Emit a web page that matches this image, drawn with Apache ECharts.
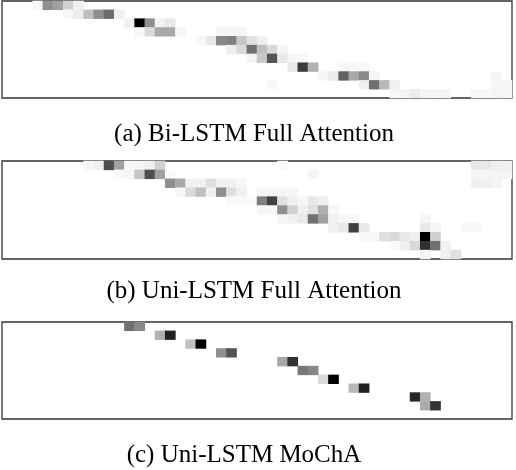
<!DOCTYPE html>
<html>
<head>
<meta charset="utf-8">
<script src="https://cdn.jsdelivr.net/npm/echarts@6/dist/echarts.min.js"></script>
<style>
  html, body { margin: 0; padding: 0; background: #fff; }
  #chart { width: 516px; height: 470px; }
</style>
</head>
<body>
<div id="chart"></div>
<script>
// attention weights, [column, row, weight 0..1]
const nCols = 50;
const nRows = 11;

const biFull = [
  [3,0,0.03],[4,0,0.44],[5,0,0.37],[6,0,0.18],[7,0,0.06],
  [6,1,0.03],[7,1,0.07],[8,1,0.25],[9,1,0.44],[10,1,0.58],[11,1,0.06],
  [12,2,0.06],[13,2,1],[14,2,0.44],[15,2,0.05],[16,2,0.09],
  [13,3,0.03],[14,3,0.15],[15,3,0.34],[16,3,0.34],[17,3,0.03],[21,3,0.04],[22,3,0.04],[23,3,0.04],
  [19,4,0.03],[20,4,0.09],[21,4,0.47],[22,4,0.5],[23,4,0.22],[24,4,0.12],[25,4,0.06],
  [22,5,0.06],[23,5,0.15],[24,5,0.56],[25,5,0.25],[26,5,0.15],[27,5,0.04],
  [24,6,0.04],[25,6,0.22],[26,6,0.67],[27,6,0.09],[28,6,0.03],[29,6,0.03],
  [28,7,0.09],[29,7,0.77],[30,7,0.31],[33,7,0.03],[34,7,0.03],[35,7,0.03],
  [31,8,0.04],[32,8,0.08],[33,8,0.62],[34,8,0.34],[35,8,0.46],[36,8,0.04],[48,8,0.04],
  [26,9,0.03],[35,9,0.06],[36,9,0.56],[37,9,0.28],[38,9,0.06],[48,9,0.04],[49,9,0.04],
  [38,10,0.03],[39,10,0.04],[40,10,0.08],[41,10,0.04],[42,10,0.04],[43,10,0.04],
  [46,10,0.03],[47,10,0.03],[48,10,0.04],[49,10,0.04]
];

const uniFull = [
  [8,0,0.03],[9,0,0.06],[10,0,0.69],[11,0,0.37],[12,0,0.03],[13,0,0.04],[14,0,0.06],[15,0,0.18],
  [27,0,0.02],[46,0,0.09],[47,0,0.09],[48,0,0.06],[49,0,0.06],
  [11,1,0.02],[12,1,0.04],[13,1,0.22],[14,1,0.69],[15,1,0.37],[16,1,0.02],[30,1,0.04],
  [46,1,0.04],[47,1,0.04],[48,1,0.04],[49,1,0.04],
  [16,2,0.44],[17,2,0.34],[18,2,0.06],[19,2,0.05],[20,2,0.12],[21,2,0.05],[22,2,0.06],[23,2,0.03],
  [46,2,0.06],[47,2,0.06],[48,2,0.04],
  [17,3,0.03],[18,3,0.15],[19,3,0.25],[20,3,0.06],[21,3,0.44],[22,3,0.12],[23,3,0.06],
  [25,3,0.04],[26,3,0.04],[27,3,0.04],[28,3,0.04],
  [22,4,0.02],[23,4,0.02],[24,4,0.02],[25,4,0.5],[26,4,0.75],[27,4,0.12],[28,4,0.06],[29,4,0.03],
  [30,4,0.09],[31,4,0.06],
  [25,5,0.03],[26,5,0.03],[27,5,0.44],[28,5,0.18],[29,5,0.06],[30,5,0.12],[31,5,0.31],[32,5,0.03],
  [27,6,0.04],[28,6,0.06],[29,6,0.09],[30,6,0.56],[31,6,0.37],[32,6,0.06],[33,6,0.03],[34,6,0.03],[41,6,0.04],
  [32,7,0.06],[33,7,0.09],[34,7,0.75],[35,7,0.09],[41,7,0.09],[42,7,0.04],[45,7,0.03],[46,7,0.03],
  [35,8,0.03],[36,8,0.03],[37,8,0.12],[38,8,0.15],[39,8,0.09],[40,8,0.06],[41,8,1],[42,8,0.18],
  [38,9,0.02],[39,9,0.06],[40,9,0.15],[41,9,0.81],[42,9,0.56],[43,9,0.06],
  [41,10,0.04],[43,10,0.06],[44,10,0.12]
];

const uniMocha = [
  [12,0,0.56],[13,0,0.46],
  [15,1,0.31],[16,1,0.87],
  [18,2,0.25],[19,2,1],
  [21,3,0.44],[22,3,0.67],
  [27,4,0.34],[28,4,0.8],
  [29,5,0.53],[30,5,0.47],
  [31,6,0.15],[32,6,1],
  [34,7,0.28],[35,7,0.87],
  [40,8,0.84],[41,8,0.31],
  [41,9,0.33],[42,9,0.8]
];

const captions = ['(a) Bi-LSTM Full Attention', '(b) Uni-LSTM Full Attention', '(c) Uni-LSTM MoChA'];

// layout of the three panels
const panels = [
  {data: biFull,   top: 1,   height: 97, capX: 254, capY: 134},
  {data: uniFull,  top: 161, height: 98, capX: 254, capY: 291},
  {data: uniMocha, top: 322, height: 97, capX: 244, capY: 455}
];

const colCats = Array.from({length: nCols}, (_, i) => String(i));
const rowCats = Array.from({length: nRows}, (_, i) => String(i));

const chart = echarts.init(document.getElementById('chart'), null, {renderer: 'canvas'});

chart.setOption({
  animation: false,
  backgroundColor: '#ffffff',
  grid: panels.map(p => ({
    left: 2, width: 510, top: p.top, height: p.height,
    show: true, borderColor: '#333', borderWidth: 1.3, backgroundColor: 'transparent'
  })),
  xAxis: panels.map((p, i) => ({
    type: 'category', gridIndex: i, data: colCats,
    axisLine: {show: false}, axisTick: {show: false}, axisLabel: {show: false}, splitLine: {show: false}
  })),
  yAxis: panels.map((p, i) => ({
    type: 'category', gridIndex: i, data: rowCats, inverse: true,
    axisLine: {show: false}, axisTick: {show: false}, axisLabel: {show: false}, splitLine: {show: false}
  })),
  visualMap: {
    type: 'continuous', show: false, min: 0, max: 1, seriesIndex: [0, 1, 2],
    inRange: {color: ['#ffffff', '#000000']}
  },
  series: panels.map((p, i) => ({
    type: 'heatmap', xAxisIndex: i, yAxisIndex: i, data: p.data,
    itemStyle: {borderWidth: 0}
  })),
  graphic: panels.map((p, i) => ({
    type: 'text', x: p.capX, y: p.capY,
    style: {
      text: captions[i], fill: '#000',
      font: '25px "Liberation Serif", "DejaVu Serif", serif',
      textAlign: 'center', textVerticalAlign: 'middle'
    }
  }))
});
</script>
</body>
</html>
